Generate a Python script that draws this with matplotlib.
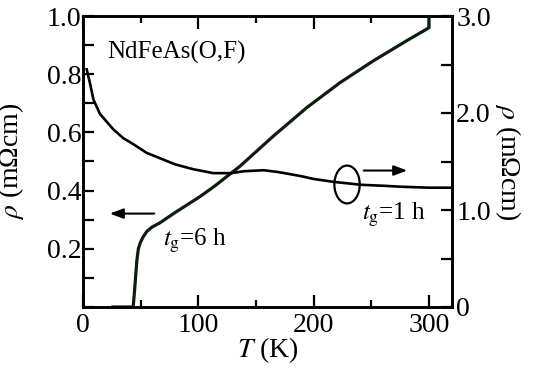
import matplotlib
matplotlib.use("Agg")
import matplotlib.pyplot as plt
from matplotlib.patches import Arc
from matplotlib.ticker import MultipleLocator, FuncFormatter

SERIF = 'Liberation Serif'
plt.rcParams['font.family'] = [SERIF, 'DejaVu Serif']
plt.rcParams['mathtext.fontset'] = 'stix'

# t_g = 6 h sample (left axis, mOhm cm)
T_6h = [26, 43.5, 44.6, 46.7, 48, 49.6, 52, 55.4, 60, 67, 80, 101.7, 115, 130.7,
        136.2, 165, 194, 222.9, 251.8, 280.7, 298, 300, 300]
rho_6h = [0.0, 0.0, 0.05, 0.16, 0.20, 0.22, 0.24, 0.26, 0.275, 0.29, 0.325, 0.38,
          0.418, 0.467, 0.484, 0.587, 0.685, 0.771, 0.846, 0.915, 0.955, 0.96, 1.0]

# t_g = 1 h sample (right axis, mOhm cm)
T_1h = [3.2, 6, 9, 14.7, 26.4, 35, 43.5, 55, 69.6, 80, 95.7, 113, 128, 140,
        156.8, 170, 188.7, 200, 217.4, 241, 260, 275.6, 300, 319]
rho_1h = [2.45, 2.31, 2.14, 1.99, 1.83, 1.74, 1.68, 1.59, 1.52, 1.47, 1.42, 1.38,
          1.38, 1.40, 1.41, 1.39, 1.35, 1.32, 1.29, 1.26, 1.25, 1.24, 1.23, 1.23]

xticks = [0, 100, 200, 300]
left_labels = {2: "0.2", 4: "0.4", 6: "0.6", 8: "0.8", 10: "1.0"}
right_labels = {0: "0", 2: "1.0", 4: "2.0", 6: "3.0"}

fig = plt.figure(figsize=(5.33, 3.72), dpi=100)
ax = fig.add_axes([83/533, 65/372, 369/533, 291/372])
ax2 = ax.twinx()

ax.plot(T_6h, rho_6h, color='#0d1d0d', lw=2.3, solid_joinstyle='round', zorder=3)
ax2.plot(T_1h, rho_1h, color='black', lw=1.9, solid_joinstyle='round')

ax.set_xlim(0, 320)
ax.set_ylim(0, 1.0)
ax2.set_ylim(0, 3.0)

ax.set_xticks(xticks)
ax.xaxis.set_minor_locator(MultipleLocator(50))
ax.yaxis.set_major_locator(MultipleLocator(0.1))
ax.yaxis.set_major_formatter(FuncFormatter(
    lambda v, p: left_labels.get(int(round(v * 10)), "")))
ax2.yaxis.set_major_locator(MultipleLocator(0.5))
ax2.yaxis.set_major_formatter(FuncFormatter(
    lambda v, p: right_labels.get(int(round(v * 2)), "")))

ax.tick_params(axis='x', which='major', direction='in', top=True, length=9,
               width=1.6, labelsize=20, pad=4, labelfontfamily=SERIF)
ax.tick_params(axis='x', which='minor', direction='in', top=True, length=5,
               width=1.6)
ax.tick_params(axis='y', which='major', direction='in', length=8, width=1.6,
               labelsize=20, pad=1, labelfontfamily=SERIF)
ax2.tick_params(axis='y', which='major', direction='in', length=8, width=1.6,
                labelsize=20, pad=3, labelfontfamily=SERIF)

for a in (ax, ax2):
    for s in a.spines.values():
        s.set_linewidth(1.9)

ax.set_xlabel(r'$T$ (K)', fontsize=20, labelpad=-2, family=SERIF)
ax.set_ylabel(r'$\rho$ (mΩcm)', fontsize=20, family=SERIF)
ax.yaxis.set_label_coords(-0.155, 0.5)
ax2.set_ylabel(r'$\rho$ (mΩcm)', fontsize=20, rotation=-90, va='center',
               family=SERIF)
ax2.yaxis.set_label_coords(1.152, 0.5)

ax.text(20.8, 0.876, 'NdFeAs(O,F)', fontsize=18, ha='left', va='center',
        family=SERIF)
ax.text(69.4, 0.210, r'$t_{\rm g}$=6 h', fontsize=18, ha='left', va='baseline',
        family=SERIF)
ax.text(242, 0.300, r'$t_{\rm g}$=1 h', fontsize=18, ha='left', va='baseline',
        family=SERIF)

ax.annotate('', xy=(20.8, 0.321), xytext=(64.2, 0.321),
            arrowprops=dict(arrowstyle='-|>,head_length=0.8,head_width=0.3',
                            color='black', lw=1.5))
ax.annotate('', xy=(283.6, 0.469), xytext=(241, 0.469),
            arrowprops=dict(arrowstyle='-|>,head_length=0.8,head_width=0.3',
                            color='black', lw=1.5))
ax.add_patch(Arc((229, 0.421), 22, 0.13, theta1=-60, theta2=290,
                 color='black', lw=1.6))

fig.savefig('out.png', dpi=100)
